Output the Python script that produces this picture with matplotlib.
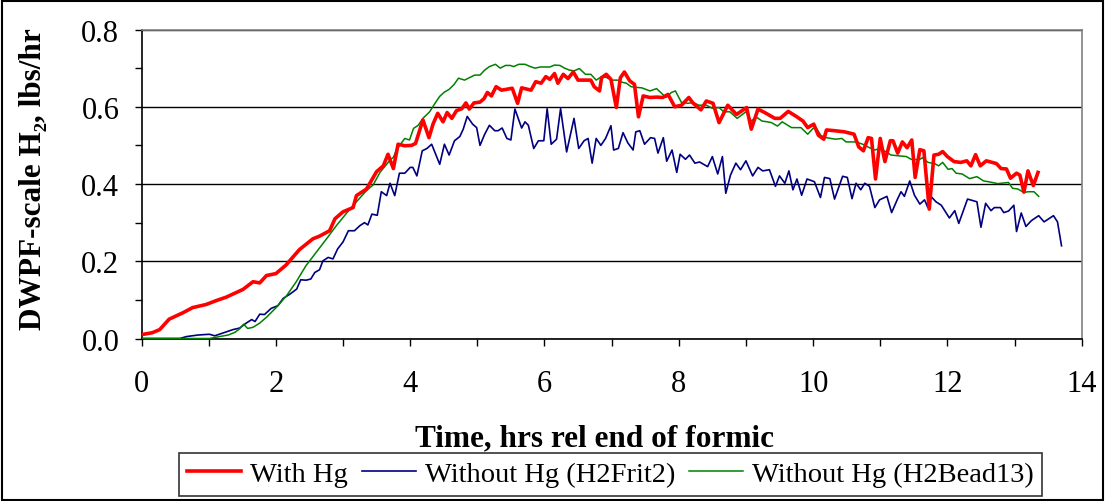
import matplotlib
matplotlib.use('Agg')
import matplotlib.pyplot as plt
from matplotlib.ticker import MultipleLocator, FormatStrFormatter
from matplotlib.patches import Rectangle

# With Hg
t_hg = [0.0, 0.16, 0.27, 0.41, 0.52, 0.62, 0.76, 0.96, 1.11, 1.26, 1.41, 1.51, 1.66, 1.76, 1.86,
        2.0, 2.15, 2.35, 2.55, 2.65, 2.80, 2.88, 3.0, 3.15, 3.2, 3.35, 3.5, 3.6, 3.67, 3.75, 3.82,
        3.92, 4.02, 4.08, 4.19, 4.28, 4.34, 4.41, 4.49, 4.55, 4.62, 4.69, 4.77, 4.83, 4.88, 4.95,
        5.04, 5.10, 5.15, 5.21, 5.28, 5.36, 5.43, 5.52, 5.60, 5.66, 5.80, 5.87, 5.95, 6.02, 6.08,
        6.15, 6.20, 6.28, 6.35, 6.43, 6.50, 6.69, 6.74, 6.82, 6.85, 6.92, 6.99, 7.07, 7.13, 7.19,
        7.27, 7.34, 7.40, 7.47, 7.57, 7.67, 7.76, 7.84, 7.94, 8.04, 8.15, 8.21, 8.33, 8.41, 8.51,
        8.60, 8.73, 8.86, 9.01, 9.08, 9.18, 9.28, 9.43, 9.51, 9.63, 9.75, 9.85, 9.92, 10.01, 10.08,
        10.16, 10.20, 10.32, 10.47, 10.61, 10.68, 10.75, 10.82, 10.87, 10.93, 11.0, 11.07, 11.15,
        11.19, 11.26, 11.33, 11.40, 11.47, 11.52, 11.59, 11.65, 11.73, 11.80, 11.87, 11.93, 12.0,
        12.10, 12.20, 12.29, 12.35, 12.42, 12.49, 12.58, 12.73, 12.80, 12.88, 12.94, 13.03, 13.08,
        13.14, 13.20, 13.28, 13.35]
h2_hg = [0.01, 0.015, 0.023, 0.05, 0.059, 0.067, 0.08, 0.088, 0.098, 0.107, 0.119, 0.127, 0.147, 0.144, 0.163,
         0.168, 0.19, 0.23, 0.258, 0.265, 0.279, 0.31, 0.328, 0.339, 0.37, 0.387, 0.432, 0.447, 0.477, 0.44, 0.503,
         0.499, 0.50, 0.505, 0.566, 0.52, 0.555, 0.583, 0.561, 0.585, 0.57, 0.59, 0.595, 0.61, 0.594, 0.61,
         0.612, 0.621, 0.637, 0.628, 0.652, 0.643, 0.645, 0.648, 0.609, 0.649, 0.643, 0.665, 0.661, 0.678, 0.671,
         0.686, 0.661, 0.684, 0.673, 0.69, 0.669, 0.669, 0.652, 0.641, 0.675, 0.684, 0.671, 0.598, 0.675, 0.69,
         0.667, 0.658, 0.574, 0.628, 0.624, 0.625, 0.624, 0.632, 0.60, 0.604, 0.624, 0.61, 0.592, 0.615, 0.609,
         0.559, 0.604, 0.58, 0.598, 0.542, 0.594, 0.585, 0.57, 0.57, 0.588, 0.575, 0.563, 0.546, 0.555, 0.526,
         0.516, 0.54, 0.538, 0.535, 0.529, 0.496, 0.486, 0.52, 0.518, 0.413, 0.518, 0.458, 0.512,
         0.512, 0.48, 0.509, 0.494, 0.514, 0.417, 0.489, 0.486, 0.335, 0.475, 0.477, 0.484, 0.471,
         0.458, 0.456, 0.46, 0.447, 0.476, 0.447, 0.46, 0.453, 0.44, 0.439, 0.415, 0.428, 0.423,
         0.379, 0.434, 0.396, 0.43]

# Without Hg (H2Frit2)
t_frit = [0.0, 0.57, 0.67, 0.84, 1.01, 1.09, 1.21, 1.36, 1.46, 1.56, 1.64, 1.69, 1.76, 1.83, 1.93,
          2.03, 2.11, 2.21, 2.31, 2.37, 2.45, 2.52, 2.58, 2.65, 2.70, 2.78, 2.85, 2.92, 3.0, 3.08,
          3.17, 3.25, 3.32, 3.37, 3.43, 3.51, 3.57, 3.65, 3.70, 3.77, 3.84, 3.92, 4.0, 4.04, 4.10,
          4.18, 4.25, 4.32, 4.44, 4.51, 4.58, 4.66, 4.74, 4.79, 4.85, 4.93, 4.99, 5.04, 5.11, 5.18,
          5.26, 5.31, 5.37, 5.44, 5.50, 5.56, 5.66, 5.71, 5.76, 5.84, 5.91, 5.99, 6.04, 6.10, 6.18,
          6.24, 6.33, 6.44, 6.51, 6.59, 6.65, 6.71, 6.77, 6.84, 6.91, 6.99, 7.03, 7.10, 7.17, 7.24,
          7.32, 7.36, 7.42, 7.49, 7.58, 7.64, 7.69, 7.77, 7.82, 7.90, 7.97, 8.02, 8.10, 8.16, 8.24,
          8.31, 8.43, 8.50, 8.58, 8.65, 8.70, 8.77, 8.85, 8.92, 9.0, 9.10, 9.18, 9.25, 9.35, 9.44,
          9.50, 9.58, 9.64, 9.70, 9.76, 9.83, 9.91, 10.02, 10.11, 10.17, 10.25, 10.32, 10.44, 10.51,
          10.58, 10.64, 10.71, 10.77, 10.84, 10.92, 10.99, 11.10, 11.17, 11.26, 11.31, 11.36, 11.44,
          11.51, 11.59, 11.66, 11.71, 11.76, 11.83, 11.91, 12.03, 12.11, 12.17, 12.30, 12.44, 12.50,
          12.57, 12.65, 12.70, 12.79, 12.84, 12.91, 12.99, 13.03, 13.10, 13.17, 13.25, 13.36, 13.44,
          13.58, 13.64, 13.70]
h2_frit = [0.0, 0.0, 0.005, 0.009, 0.011, 0.007, 0.014, 0.023, 0.027, 0.04, 0.049, 0.044, 0.063, 0.062, 0.078,
           0.085, 0.104, 0.115, 0.128, 0.152, 0.151, 0.154, 0.171, 0.178, 0.201, 0.21, 0.206, 0.232, 0.25, 0.279,
           0.279, 0.292, 0.30, 0.294, 0.322, 0.319, 0.38, 0.37, 0.402, 0.37, 0.428, 0.428, 0.443, 0.443, 0.421,
           0.486, 0.492, 0.503, 0.451, 0.503, 0.475, 0.512, 0.523, 0.542, 0.575, 0.555, 0.546, 0.50, 0.529, 0.552,
           0.538, 0.538, 0.545, 0.518, 0.514, 0.594, 0.545, 0.561, 0.552, 0.492, 0.512, 0.512, 0.595, 0.503, 0.516,
           0.595, 0.483, 0.57, 0.492, 0.512, 0.518, 0.454, 0.518, 0.50, 0.518, 0.551, 0.488, 0.492, 0.533, 0.507,
           0.488, 0.535, 0.538, 0.503, 0.52, 0.518, 0.48, 0.52, 0.459, 0.488, 0.43, 0.477, 0.464, 0.475, 0.454,
           0.457, 0.445, 0.471, 0.426, 0.471, 0.376, 0.423, 0.454, 0.437, 0.46, 0.421, 0.443, 0.434, 0.437, 0.394,
           0.421, 0.402, 0.434, 0.385, 0.413, 0.371, 0.413, 0.406, 0.365, 0.417, 0.414, 0.361, 0.42, 0.417,
           0.362, 0.402, 0.385, 0.402, 0.394, 0.339, 0.359, 0.368, 0.326, 0.362, 0.38, 0.368, 0.408,
           0.371, 0.348, 0.359, 0.339, 0.367, 0.354, 0.345, 0.312, 0.331, 0.298, 0.361, 0.354, 0.288,
           0.35, 0.331, 0.339, 0.339, 0.326, 0.33, 0.345, 0.277, 0.325, 0.29, 0.305, 0.318, 0.302,
           0.318, 0.302, 0.24]

# Without Hg (H2Bead13)
t_bead = [0.0, 1.01, 1.16, 1.29, 1.39, 1.46, 1.52, 1.58, 1.66, 1.76, 1.86, 2.01, 2.16, 2.30, 2.45,
          2.60, 2.75, 2.90, 3.05, 3.20, 3.35, 3.45, 3.55, 3.70, 3.75, 3.80, 3.92, 3.99, 4.05, 4.12,
          4.19, 4.29, 4.37, 4.44, 4.51, 4.58, 4.65, 4.72, 4.81, 4.89, 4.96, 5.04, 5.11, 5.18, 5.27,
          5.34, 5.42, 5.49, 5.54, 5.62, 5.71, 5.79, 5.86, 5.94, 6.08, 6.15, 6.23, 6.30, 6.37, 6.44,
          6.52, 6.61, 6.69, 6.77, 6.85, 6.92, 7.0, 7.09, 7.14, 7.22, 7.29, 7.38, 7.45, 7.57, 7.67,
          7.81, 7.89, 7.95, 8.04, 8.14, 8.21, 8.30, 8.41, 8.50, 8.60, 8.67, 8.76, 8.87, 8.93, 9.0,
          9.08, 9.15, 9.24, 9.32, 9.38, 9.47, 9.54, 9.68, 9.82, 9.92, 10.0, 10.05, 10.12, 10.20,
          10.33, 10.43, 10.49, 10.64, 10.74, 10.84, 10.92, 10.99, 11.09, 11.16, 11.39, 11.46, 11.51,
          11.59, 11.63, 11.71, 11.81, 11.87, 11.93, 12.01, 12.07, 12.13, 12.22, 12.33, 12.44, 12.54,
          12.61, 12.75, 12.91, 12.97, 13.05, 13.14, 13.20, 13.29, 13.36]
h2_bead = [0.0, 0.0, 0.005, 0.009, 0.016, 0.025, 0.037, 0.026, 0.029, 0.04, 0.055, 0.081, 0.111, 0.146, 0.189,
           0.223, 0.257, 0.292, 0.324, 0.354, 0.383, 0.398, 0.43, 0.462, 0.469, 0.49, 0.518, 0.514, 0.544, 0.552,
           0.57, 0.587, 0.609, 0.627, 0.638, 0.645, 0.657, 0.674, 0.669, 0.676, 0.682, 0.682, 0.695, 0.704, 0.71,
           0.70, 0.707, 0.707, 0.704, 0.71, 0.71, 0.704, 0.70, 0.703, 0.703, 0.708, 0.707, 0.70, 0.695, 0.693,
           0.699, 0.684, 0.684, 0.669, 0.678, 0.676, 0.669, 0.669, 0.664, 0.661, 0.652, 0.65, 0.649, 0.641, 0.647,
           0.624, 0.637, 0.641, 0.611, 0.609, 0.611, 0.604, 0.604, 0.596, 0.598, 0.587, 0.587, 0.57, 0.578, 0.587,
           0.563, 0.574, 0.563, 0.561, 0.559, 0.55, 0.561, 0.546, 0.546, 0.529, 0.544, 0.544, 0.525, 0.52,
           0.516, 0.518, 0.509, 0.509, 0.503, 0.494, 0.488, 0.492, 0.483, 0.475, 0.471, 0.464, 0.463,
           0.464, 0.468, 0.456, 0.453, 0.447, 0.456, 0.438, 0.44, 0.428, 0.426, 0.414, 0.419, 0.408,
           0.406, 0.401, 0.404, 0.389, 0.387, 0.378, 0.38, 0.38, 0.368]

plt.rcParams['font.family'] = ['Liberation Serif', 'DejaVu Serif']

fig = plt.figure(figsize=(11.06, 5.02), dpi=100)
ax = fig.add_axes([0.128, 0.3237, 0.85, 0.6155])

ax.plot(t_hg, h2_hg, color='#ff0000', lw=2.6, label='With Hg', zorder=4)
ax.plot(t_frit, h2_frit, color='#000080', lw=1.2, label='Without Hg (H2Frit2)', zorder=3)
ax.plot(t_bead, h2_bead, color='#008000', lw=1.1, label='Without Hg (H2Bead13)', zorder=3)

ax.set_xlim(0, 14)
ax.set_ylim(0, 0.8)
ax.xaxis.set_major_locator(MultipleLocator(2))
ax.xaxis.set_minor_locator(MultipleLocator(1))
ax.yaxis.set_major_locator(MultipleLocator(0.2))
ax.yaxis.set_minor_locator(MultipleLocator(0.1))
ax.yaxis.set_major_formatter(FormatStrFormatter('%.1f'))
ax.tick_params(which='both', direction='out', length=5, width=1, labelsize=22, color='black')
ax.tick_params(axis='x', pad=17)
ax.tick_params(axis='y', pad=11)
ax.yaxis.grid(True, which='major', color='black', lw=1)
ax.set_axisbelow(True)

for s in ['left', 'bottom']:
    ax.spines[s].set_color('black')
    ax.spines[s].set_linewidth(1.2)
for s in ['top', 'right']:
    ax.spines[s].set_color('#808080')
    ax.spines[s].set_linewidth(1.2)

ax.set_xlabel('Time, hrs rel end of formic', fontsize=22.5, fontweight='bold', labelpad=18)
ax.xaxis.label.set_x(0.482)
ax.set_ylabel('DWPF-scale H₂, lbs/hr', fontsize=22.5, fontweight='bold', labelpad=24)
ax.yaxis.label.set_y(0.52)

leg = fig.legend(loc='center', bbox_to_anchor=(0.552, 0.053), ncol=3, fontsize=20.5,
                 frameon=True, fancybox=False, handlelength=1.9, handletextpad=0.3,
                 columnspacing=0.5, borderpad=0.3, borderaxespad=0)
leg.get_frame().set_edgecolor('black')
leg.get_frame().set_linewidth(1.2)

fig.patches.append(Rectangle((0.002, 0.002), 0.995, 0.995, transform=fig.transFigure,
                             fill=False, edgecolor='black', lw=1.5))

plt.savefig('out.png', dpi=100)
